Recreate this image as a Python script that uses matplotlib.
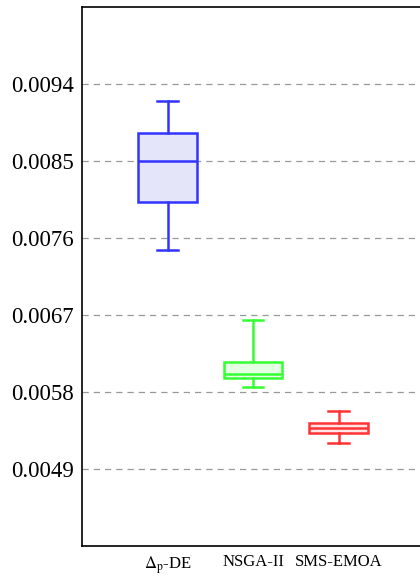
import matplotlib.pyplot as plt

# box statistics
labels = [r'$\Delta_{\mathrm{p}}$-DE', 'NSGA-II', 'SMS-EMOA']
whislo = [0.00746, 0.005862, 0.005207]
q1 = [0.008021, 0.005967, 0.005321]
med = [0.0085, 0.00601, 0.005379]
q3 = [0.008827, 0.006151, 0.005438]
whishi = [0.009201, 0.00664, 0.005582]

edge_colors = ['#3333ff', '#33ff33', '#ff3333']
face_colors = ['#e5e5fa', '#e5ffe5', '#ffe5e5']
yticks = [0.0049, 0.0058, 0.0067, 0.0076, 0.0085, 0.0094]


def main():
    plt.rcParams['font.family'] = ['Liberation Serif', 'DejaVu Serif']
    plt.rcParams['mathtext.fontset'] = 'stix'

    fig = plt.figure(figsize=(4.2, 5.77), dpi=100)
    ax = fig.add_axes([82 / 420, 31 / 577, 342 / 420, 539 / 577])

    stats = []
    for i in range(len(labels)):
        stats.append(dict(label=labels[i], whislo=whislo[i], q1=q1[i], med=med[i],
                          q3=q3[i], whishi=whishi[i], fliers=[]))

    for i, s in enumerate(stats):
        c = edge_colors[i]
        ax.bxp([s], positions=[i + 1], widths=0.68, patch_artist=True,
               showfliers=False,
               boxprops=dict(facecolor=face_colors[i], edgecolor=c, linewidth=1.8),
               medianprops=dict(color=c, linewidth=1.8),
               whiskerprops=dict(color=c, linewidth=1.8),
               capprops=dict(color=c, linewidth=1.8),
               capwidths=0.235)

    ax.set_xlim(0, 4)
    ax.set_ylim(0.0040, 0.0103)
    ax.set_yticks(yticks)
    ax.set_yticklabels([f'{v:.4f}' for v in yticks], fontsize=16.5)
    ax.set_xticks([1, 2, 3])
    ax.set_xticklabels(labels, fontsize=12)
    ax.tick_params(length=0, pad=6)
    ax.yaxis.grid(True, linestyle=(0, (5, 4)), color='#999999', linewidth=0.9)
    ax.set_axisbelow(True)
    for sp in ax.spines.values():
        sp.set_linewidth(1.2)

    fig.savefig('out.png', dpi=100)


if __name__ == '__main__':
    main()
